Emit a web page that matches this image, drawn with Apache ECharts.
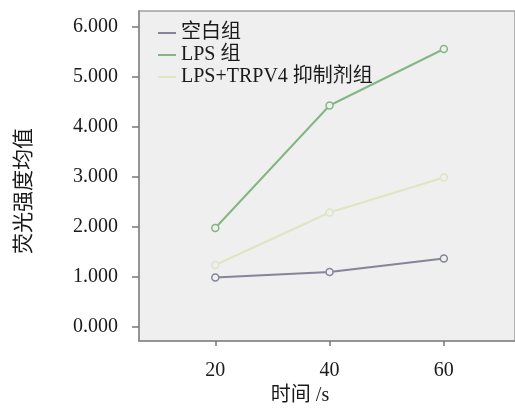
<!DOCTYPE html>
<html>
<head>
<meta charset="utf-8">
<script src="https://cdn.jsdelivr.net/npm/echarts@6/dist/echarts.min.js"></script>
<style>html,body{margin:0;padding:0;background:#fff;}#c{width:515px;height:411px;}</style>
</head>
<body>
<div id="c"></div>
<script>
var times = [20, 40, 60];
var yTicks = [0, 1, 2, 3, 4, 5, 6];
var seriesNames = ['空白组', 'LPS 组', 'LPS+TRPV4 抑制剂组'];
var blankVals = [0.99, 1.10, 1.37];
var lpsVals = [1.98, 4.43, 5.56];
var inhibVals = [1.24, 2.29, 2.99];
var colors = ['#85859a', '#84b584', '#dde5c2'];

var FONT = "'Liberation Serif', 'Noto Sans CJK SC', serif";
function pairs(vals) { return times.map(function (t, i) { return [t, vals[i]]; }); }
function mk(name, vals, color) {
  return {
    name: name, type: 'line', data: pairs(vals),
    symbol: 'circle', symbolSize: 7,
    lineStyle: { color: color, width: 2 },
    itemStyle: { color: '#eef0ee', borderColor: color, borderWidth: 1.5 },
    emphasis: { disabled: true }
  };
}
var chart = echarts.init(document.getElementById('c'));
chart.setOption({
  animation: false,
  backgroundColor: '#ffffff',
  textStyle: { fontFamily: FONT },
  grid: { left: 139, top: 11, right: -2, bottom: 66, show: true, backgroundColor: '#efefef', borderColor: '#a0a0a0', borderWidth: 1.5 },
  legend: {
    orient: 'vertical', left: 153, top: 18, itemGap: 2, itemWidth: 18, itemHeight: 2,
    icon: 'rect',
    textStyle: { fontFamily: FONT, fontSize: 20, color: '#1a1a1a' },
    data: seriesNames.map(function (n, i) { return { name: n, itemStyle: { color: colors[i], borderWidth: 0 } }; })
  },
  xAxis: {
    type: 'value', min: 6.65, max: 72.45,
    name: '时间 /s', nameLocation: 'middle', nameGap: 45,
    nameTextStyle: { fontFamily: FONT, fontSize: 20, color: '#1a1a1a', padding: [0, 54, 0, 0] },
    axisLine: { show: true, onZero: false, lineStyle: { color: '#8a8a8a', width: 1.5 } },
    axisTick: { show: true, length: 5, customValues: times, lineStyle: { color: '#777', width: 1.5 } },
    axisLabel: { customValues: times, fontFamily: FONT, fontSize: 20, color: '#1a1a1a', margin: 20 },
    splitLine: { show: false }
  },
  yAxis: {
    type: 'value', min: -0.28, max: 6.32,
    name: '荧光强度均值', nameLocation: 'middle', nameGap: 104, nameRotate: 90,
    nameTextStyle: { fontFamily: FONT, fontSize: 21, color: '#1a1a1a', padding: [0, 30, 0, 0] },
    axisLine: { show: true, lineStyle: { color: '#8a8a8a', width: 1.5 } },
    axisTick: { show: true, length: 7, customValues: yTicks, lineStyle: { color: '#777', width: 1.5 } },
    axisLabel: { customValues: yTicks, fontFamily: FONT, fontSize: 20, color: '#1a1a1a', margin: 21,
      formatter: function (v) { return v.toFixed(3); } },
    splitLine: { show: false }
  },
  series: [
    mk(seriesNames[0], blankVals, colors[0]),
    mk(seriesNames[1], lpsVals, colors[1]),
    mk(seriesNames[2], inhibVals, colors[2])
  ]
});
</script>
</body>
</html>
